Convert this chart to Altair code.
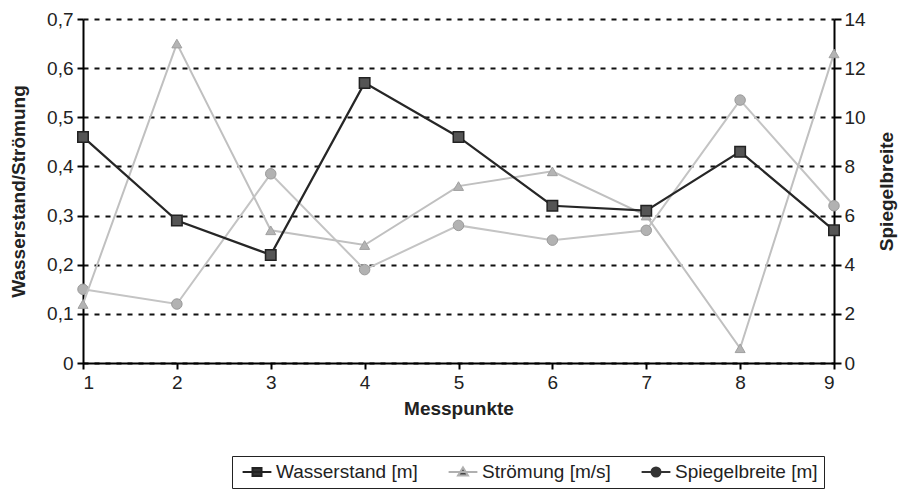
import altair as alt
import pandas as pd

# ---- data ----
messpunkte = [1, 2, 3, 4, 5, 6, 7, 8, 9]
wasserstand = [0.46, 0.29, 0.22, 0.57, 0.46, 0.32, 0.31, 0.43, 0.27]
stroemung = [0.12, 0.65, 0.27, 0.24, 0.36, 0.39, 0.30, 0.03, 0.63]
spiegelbreite = [3.0, 2.4, 7.7, 3.8, 5.6, 5.0, 5.4, 10.7, 6.4]
serien = ["Wasserstand [m]", "Strömung [m/s]", "Spiegelbreite [m]"]
left_ticks = [0, 0.1, 0.2, 0.3, 0.4, 0.5, 0.6, 0.7]
right_ticks = [0, 2, 4, 6, 8, 10, 12, 14]

df = pd.DataFrame({
    "Messpunkt": messpunkte,
    "Wasserstand": wasserstand,
    "Stroemung": stroemung,
    "Spiegelbreite": spiegelbreite,
})
legend_df = pd.DataFrame({"Serie": serien})

FONT = "Liberation Sans"
FS = 19

x_enc = alt.X(
    "Messpunkt:Q",
    scale=alt.Scale(domain=[1, 9], nice=False, zero=False),
    axis=alt.Axis(
        values=messpunkte, format="d", title="Messpunkte", grid=False,
        domainColor="black", domainWidth=2, tickColor="black", tickWidth=2,
        tickSize=6, labelFont=FONT, labelFontSize=FS, labelColor="#222",
        labelPadding=4, titleFont=FONT, titleFontSize=FS, titleFontWeight="bold",
        titleColor="#222", titlePadding=7,
    ),
)


def y_left(field):
    return alt.Y(
        f"{field}:Q",
        scale=alt.Scale(domain=[0, 0.7], nice=False, zero=True),
        axis=alt.Axis(
            orient="left", values=left_ticks,
            labelExpr="datum.value == 0 ? '0' : replace(format(datum.value, '.1f'), '.', ',')",
            title="Wasserstand/Strömung", grid=True, gridColor="#111",
            gridDash=[5, 6], gridWidth=2, domainColor="black", domainWidth=2,
            tickColor="black", tickWidth=2, tickSize=6, labelFont=FONT,
            labelFontSize=FS, labelColor="#222", labelPadding=4,
            titleFont=FONT, titleFontSize=FS, titleFontWeight="bold",
            titleColor="#222", titlePadding=18,
        ),
    )


y_right = alt.Y(
    "Spiegelbreite:Q",
    scale=alt.Scale(domain=[0, 14], nice=False, zero=True),
    axis=alt.Axis(
        orient="right", values=right_ticks, format="d", title="Spiegelbreite",
        grid=False, domainColor="black", domainWidth=2, tickColor="black",
        tickWidth=2, tickSize=7, labelFont=FONT, labelFontSize=FS,
        labelColor="#222", labelPadding=3, titleFont=FONT, titleFontSize=FS,
        titleFontWeight="bold", titleColor="#222", titleAngle=270,
        titleBaseline="top", titlePadding=12,
    ),
)

base = alt.Chart(df)

# Spiegelbreite (right axis)
sp_line = base.mark_line(color="#c4c4c4", strokeWidth=2).encode(x=x_enc, y=y_right)
sp_pts = base.mark_point(shape="circle", filled=True, color="#b2b2b2", stroke="#9a9a9a",
                         strokeWidth=1, size=110, opacity=1).encode(x=x_enc, y=y_right)
right_layer = alt.layer(sp_line, sp_pts)

# Strömung (left axis)
st_line = base.mark_line(color="#c0c0c0", strokeWidth=2).encode(x=x_enc, y=y_left("Stroemung"))
st_pts = base.mark_point(shape="triangle-up", filled=True, color="#b4b4b4", stroke="#a0a0a0",
                         strokeWidth=1, size=100, opacity=1).encode(x=x_enc, y=y_left("Stroemung"))

# Wasserstand (left axis)
ws_line = base.mark_line(color="#262626", strokeWidth=2.2).encode(x=x_enc, y=y_left("Wasserstand"))
ws_pts = base.mark_point(shape="square", filled=True, color="#555555", stroke="#222222",
                         strokeWidth=1.5, size=110, opacity=1).encode(x=x_enc, y=y_left("Wasserstand"))

# legend symbols: a short line with the marker on it
legend_paths = [
    "M-0.6,0H2.6M0.5,-0.45H1.5V0.45H0.5Z",
    "M-0.6,0H2.6M1,-0.5L1.55,0.4H0.45Z",
    "M-0.6,0H2.6M0.5,0A0.5,0.5 0 1,0 1.5,0A0.5,0.5 0 1,0 0.5,0Z",
]
legend_strokes = ["#222222", "#b0b0b0", "#333333"]
legend_fills = ["#333333", "#444444", "#333333"]

leg = alt.Legend(
    title=None, orient="none", legendX=149, legendY=437, direction="horizontal",
    strokeColor="#222", padding=6, labelFont=FONT, labelFontSize=19,
    labelColor="#222", symbolSize=324, symbolStrokeWidth=2, labelOffset=18,
    columnPadding=26,
)
legend_layer = alt.Chart(legend_df).transform_filter("false").mark_point(
    filled=False, opacity=1
).encode(
    color=alt.Color("Serie:N", scale=alt.Scale(domain=serien, range=legend_strokes), legend=leg),
    fill=alt.Fill("Serie:N", scale=alt.Scale(domain=serien, range=legend_fills), legend=leg),
    shape=alt.Shape("Serie:N", scale=alt.Scale(domain=serien, range=legend_paths), legend=leg),
)

left_layer = alt.layer(st_line, st_pts, ws_line, ws_pts, legend_layer)

chart = alt.layer(right_layer, left_layer).resolve_scale(y="independent").properties(
    width=751, height=344,
    autosize=alt.AutoSizeParams(type="none"),
    padding={"left": 75, "top": 11, "right": 65, "bottom": 127},
    background="white",
).configure_view(strokeWidth=0)

chart.save("out.html", embed_options={"renderer": "svg", "actions": False})
